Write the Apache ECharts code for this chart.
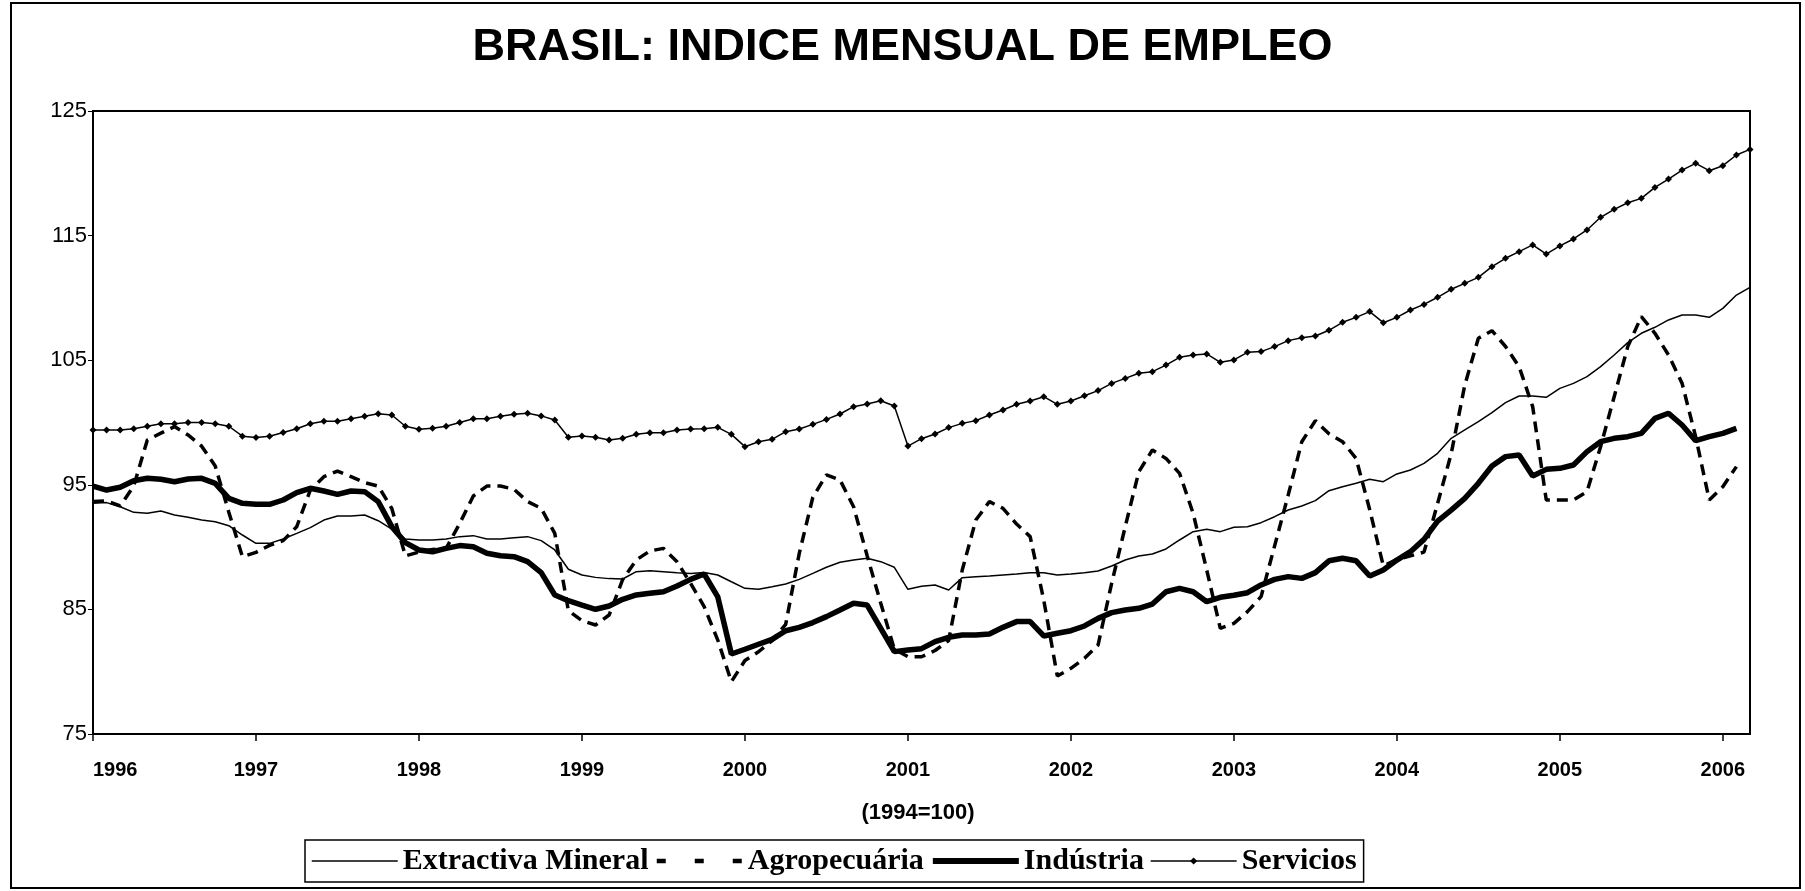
<!DOCTYPE html>
<html>
<head>
<meta charset="utf-8">
<script src="https://cdn.jsdelivr.net/npm/echarts@6/dist/echarts.min.js"></script>
<style>html,body{margin:0;padding:0;background:#fff}#c{width:1805px;height:891px}</style>
</head>
<body>
<div id="c"></div>
<script>
// ---- DATA (monthly, Jan 1996 .. Mar 2006) ----
const startYear = 1996;
const monthCount = 123;
const yearTicks = ['1996','1997','1998','1999','2000','2001','2002','2003','2004','2005','2006'];

const extractiva = [
93.51,93.57,93.24,92.79,92.71,92.90,92.58,92.39,92.17,92.04,91.72,90.97,
90.30,90.30,90.65,91.10,91.56,92.17,92.50,92.50,92.58,92.12,91.45,90.65,
90.57,90.57,90.65,90.84,90.92,90.65,90.65,90.76,90.84,90.52,89.77,88.22,
87.76,87.57,87.47,87.44,88.03,88.11,88.03,87.95,87.89,87.97,87.76,87.22,
86.69,86.61,86.82,87.04,87.41,87.89,88.38,88.78,88.96,89.10,88.83,88.38,
86.61,86.85,86.96,86.56,87.55,87.63,87.68,87.76,87.84,87.95,87.95,87.76,
87.84,87.95,88.08,88.48,88.96,89.29,89.45,89.85,90.57,91.24,91.43,91.24,
91.59,91.64,91.96,92.44,92.98,93.30,93.73,94.53,94.85,95.12,95.44,95.25,
95.87,96.19,96.72,97.53,98.73,99.40,100.07,100.79,101.59,102.13,102.13,102.02,
102.74,103.14,103.68,104.48,105.42,106.41,107.16,107.64,108.23,108.63,108.63,108.44,
109.16,110.23,110.85];

const agropecuaria = [
93.65,93.70,93.30,94.90,98.60,99.15,99.67,99.00,98.10,96.50,92.80,89.23,
89.58,90.14,90.52,91.64,94.58,95.65,96.10,95.65,95.17,94.90,93.10,89.29,
89.60,89.80,89.90,91.90,94.10,94.90,94.90,94.64,93.65,93.11,91.10,84.90,
84.10,83.75,84.55,87.40,88.97,89.69,89.90,88.83,87.09,85.22,82.54,79.20,
80.90,81.60,82.50,83.80,89.50,94.00,95.80,95.39,93.24,89.30,85.50,81.80,
81.20,81.20,81.70,82.50,88.16,92.17,93.65,93.11,91.85,90.84,85.75,79.65,
80.27,81.07,82.14,87.09,91.64,96.05,97.79,97.12,95.92,92.71,88.16,83.48,
83.88,84.82,86.02,90.10,94.18,98.46,100.15,99.10,98.46,97.12,93.00,88.50,
89.00,89.30,89.60,93.50,97.50,103.00,106.76,107.37,106.10,104.48,101.27,93.78,
93.78,93.78,94.45,98.06,102.07,106.09,108.50,107.16,105.42,103.14,98.86,93.78,
94.85,96.46,null];

const industria = [
94.90,94.58,94.80,95.33,95.52,95.44,95.25,95.47,95.52,95.12,93.91,93.51,
93.43,93.43,93.78,94.37,94.72,94.50,94.23,94.50,94.45,93.65,91.64,90.36,
89.77,89.63,89.90,90.12,90.03,89.50,89.31,89.23,88.83,87.95,86.16,85.70,
85.35,85.01,85.27,85.81,86.16,86.29,86.42,86.88,87.41,87.84,86.00,81.42,
81.80,82.20,82.60,83.29,83.56,83.94,84.42,84.95,85.49,85.35,83.48,81.61,
81.74,81.85,82.41,82.76,82.95,82.95,83.03,83.56,84.02,84.02,82.87,83.08,
83.29,83.67,84.28,84.74,84.95,85.09,85.43,86.42,86.69,86.42,85.62,85.97,
86.13,86.34,86.96,87.41,87.63,87.49,87.95,88.90,89.10,88.90,87.68,88.16,
88.96,89.63,90.62,92.09,92.97,93.91,95.12,96.51,97.26,97.39,95.71,96.24,
96.32,96.59,97.66,98.46,98.73,98.86,99.13,100.33,100.74,99.80,98.54,98.86,
99.13,99.53,null];

const servicios = [
99.40,99.40,99.40,99.50,99.70,99.90,99.90,100.00,100.00,99.90,99.70,98.90,
98.80,98.90,99.20,99.50,99.90,100.10,100.10,100.30,100.50,100.70,100.60,99.70,
99.45,99.53,99.70,100.00,100.30,100.30,100.50,100.66,100.74,100.53,100.20,98.81,
98.92,98.81,98.60,98.73,99.05,99.18,99.18,99.40,99.48,99.50,99.61,99.05,
98.06,98.46,98.65,99.26,99.48,99.85,100.25,100.68,101.27,101.48,101.75,101.32,
98.11,98.70,99.08,99.59,99.93,100.15,100.60,101.00,101.46,101.73,102.07,101.46,
101.73,102.15,102.56,103.14,103.54,103.95,104.08,104.61,105.23,105.42,105.50,104.83,
105.02,105.63,105.69,106.09,106.57,106.81,106.94,107.40,108.04,108.44,108.90,108.01,
108.44,109.03,109.48,110.05,110.69,111.17,111.65,112.51,113.18,113.71,114.25,113.52,
114.17,114.73,115.45,116.47,117.11,117.64,117.99,118.87,119.54,120.26,120.80,120.21,
120.61,121.47,121.92];

const seriesNames = ['Extractiva Mineral','Agropecuária','Indústria','Servicios'];
const titleText = 'BRASIL: INDICE MENSUAL DE EMPLEO';
const baseNote = '(1994=100)';

// categories: one per month
const months = [];
for (let i = 0; i < monthCount; i++) {
  const y = startYear + Math.floor(i / 12);
  const m = (i % 12) + 1;
  months.push(y + '-' + (m < 10 ? '0' + m : m));
}

const chart = echarts.init(document.getElementById('c'), null, {renderer: 'canvas'});
const isJan = (idx) => idx % 12 === 0;
const noMarker = {color: 'rgba(0,0,0,0)', borderColor: 'rgba(0,0,0,0)', borderWidth: 0};

chart.setOption({
  backgroundColor: '#fff',
  animation: false,
  title: {
    text: titleText,
    left: 'center',
    top: 20,
    textStyle: {fontFamily: 'Liberation Sans, Arial, sans-serif', fontWeight: 'bold', fontSize: 45, color: '#000'}
  },
  grid: {
    left: 93, top: 111, width: 1657, height: 623,
    show: true, borderColor: '#000', borderWidth: 2, backgroundColor: 'transparent'
  },
  xAxis: {
    type: 'category',
    data: months,
    boundaryGap: false,
    axisLine: {lineStyle: {color: '#000', width: 2}},
    axisTick: {show: true, inside: false, length: 7, interval: isJan, lineStyle: {color: '#000', width: 1.5}},
    axisLabel: {
      interval: isJan,
      margin: 26,
      alignMinLabel: 'left',
      color: '#000',
      fontFamily: 'Liberation Sans, Arial, sans-serif',
      fontWeight: 'bold',
      fontSize: 20,
      formatter: (v, idx) => yearTicks[Math.floor(idx / 12)]
    },
    splitLine: {show: false}
  },
  yAxis: {
    type: 'value',
    min: 75, max: 125, interval: 10,
    axisLine: {show: true, lineStyle: {color: '#000', width: 2}},
    axisTick: {show: true, inside: false, length: 5, lineStyle: {color: '#000', width: 1}},
    axisLabel: {margin: 6, color: '#000', fontFamily: 'Liberation Sans, Arial, sans-serif', fontSize: 22},
    splitLine: {show: false}
  },
  legend: {
    data: [
      {name: seriesNames[0], itemStyle: noMarker, lineStyle: {width: 1.5}},
      {name: seriesNames[1], itemStyle: noMarker, lineStyle: {width: 4.5, type: [9, 29]}},
      {name: seriesNames[2], itemStyle: noMarker, lineStyle: {width: 6}},
      {name: seriesNames[3], lineStyle: {width: 1.5}}
    ],
    left: 305, top: 840,
    orient: 'horizontal',
    itemWidth: 86, itemHeight: 9, itemGap: 6,
    padding: [6, 7, 6, 6],
    borderColor: '#000', borderWidth: 1.5,
    backgroundColor: '#fff',
    textStyle: {fontFamily: 'Liberation Serif, Times New Roman, serif', fontWeight: 'bold', fontSize: 30, color: '#000'}
  },
  graphic: [
    {type: 'rect', shape: {x: 11, y: 3, width: 1789, height: 885}, style: {fill: 'none', stroke: '#000', lineWidth: 2}, silent: true, z: -1},
    {type: 'text', x: 918, y: 813, style: {text: baseNote, align: 'center', verticalAlign: 'middle', fontFamily: 'Liberation Sans, Arial, sans-serif', fontWeight: 'bold', fontSize: 22, fill: '#000'}}
  ],
  series: [
    {name: seriesNames[0], type: 'line', data: extractiva, symbol: 'none', lineStyle: {color: '#000', width: 1.5}, itemStyle: {color: '#000'}},
    {name: seriesNames[1], type: 'line', data: agropecuaria, symbol: 'none', lineStyle: {color: '#000', width: 3.5, type: [11, 7]}, itemStyle: {color: '#000'}},
    {name: seriesNames[2], type: 'line', data: industria, symbol: 'none', lineStyle: {color: '#000', width: 5.5}, itemStyle: {color: '#000'}},
    {name: seriesNames[3], type: 'line', data: servicios, symbol: 'diamond', symbolSize: 7, showSymbol: true, lineStyle: {color: '#000', width: 1.5}, itemStyle: {color: '#000'}}
  ]
});
</script>
</body>
</html>
